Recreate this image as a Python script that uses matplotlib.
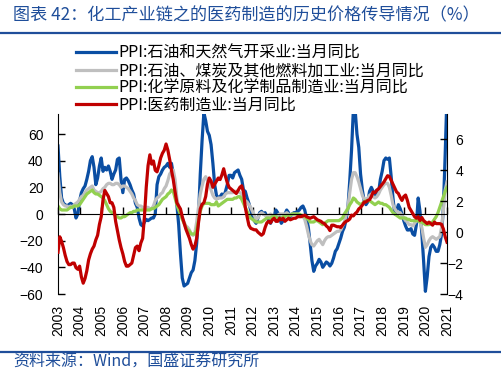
import numpy as np
import matplotlib
matplotlib.use("Agg")
import matplotlib.pyplot as plt
from matplotlib.lines import Line2D

plt.rcParams["font.family"] = ["Liberation Sans", "Noto Sans CJK SC", "DejaVu Sans"]
cjk = ["Noto Sans CJK SC", "DejaVu Sans"]

# monthly, 2003-01 .. 2021-01 (%)
oil_gas = [51, 28, 12, 8, 7, 6, 7, 8, 7, 4, -3, 0,
           10, 16, 19, 21, 26, 32, 40, 43, 35, 22, 27, 36,
           42, 32, 35, 33, 36, 32, 26, 30, 33, 41, 42, 26,
           16, 26, 27, 25, 22, 18, 15, 8, 5, -3, -8, -9,
           -6, -4, -5, -4, -3, -3, 0, 22, 28, 30, 33, 35,
           36, 38, 35, 38, 30, 20, 7, -8, -30, -48, -54, -53,
           -52, -48, -44, -42, -35, -22, -2, 30, 55, 76, 70, 62,
           59, 52, 38, 22, 14, 12, 13, 15, 13, 17, 22, 29,
           29, 27, 31, 32, 33, 29, 26, 18, 17, 12, 8, 3,
           -2, -5, -7, -3, 1, 2, 0, 1, -2, -5, -7, -4,
           -2, 3, 1, -3, -7, -5, 0, 3, 1, -2, 0, 1,
           1, 2, 3, 5, 6, 3, -3, -10, -22, -35, -43, -39,
           -37, -34, -36, -40, -38, -36, -37, -39, -37, -33, -28, -26,
           -22, -18, -13, -10, -4, 5, 25, 48, 78, 78, 60, 50,
           30, 18, 10, 7, 9, 17, 20, 17, 13, 18, 16, 26,
           32, 40, 42, 41, 42, 28, 12, 0, 2, 7, 4, 0,
           -5, -9, -12, -12, -11, -15, -16, -8, 12, 2, -14, -35,
           -58, -47, -32, -25, -23, -25, -28, -28, -23, -15, 5, 45,
           90]

refining = [30, 16, 9, 7, 6, 6, 5, 6, 5, 7, 8, 9,
            11, 13, 14, 16, 18, 19, 20, 21, 18, 17, 16, 16,
            17, 19, 20, 22, 23, 23, 22, 22, 23, 23, 22, 20,
            21, 21, 20, 19, 17, 15, 12, 10, 7, 6, 6, 5,
            5, 5, 5, 4, 4, 6, 10, 12, 13, 15, 16, 19,
            21, 25, 30, 32, 33, 26, 12, 5, 0, -3, -6, -9,
            -10, -12, -15, -16, -14, -6, 5, 15, 21, 26, 28, 25,
            22, 18, 14, 12, 11, 12, 12, 12, 13, 15, 16, 16,
            16, 16, 17, 17, 17, 16, 15, 12, 10, 9, 7, 5,
            2, -1, -4, -3, 0, 1, 0, -1, -2, -1, 0, -1,
            -1, -2, -1, 0, 0, 0, 0, 1, 0, -1, 0, 0,
            0, 0, -1, -1, -2, -4, -9, -15, -20, -23, -24, -22,
            -20, -19, -21, -23, -20, -18, -17, -17, -16, -15, -14, -13,
            -13, -12, -9, -6, -1, 6, 16, 26, 31, 31, 28, 24,
            19, 14, 11, 11, 12, 14, 15, 13, 12, 13, 15, 18,
            20, 22, 23, 23, 20, 14, 7, 4, 2, 1, 1, -1,
            -3, -5, -6, -8, -8, -9, -7, -5, -5, -6, -10, -18,
            -25, -23, -20, -18, -17, -18, -19, -18, -17, -10, 3, 18,
            24]

chemical = [6, 4, 3, 3, 3, 3, 4, 5, 5, 6, 6, 6,
            7, 9, 11, 13, 15, 16, 17, 18, 16, 15, 15, 14,
            13, 12, 10, 7, 4, 2, 1, 0, -1, -2, -3, -3,
            -2, -2, -1, 0, 1, 1, 2, 2, 3, 3, 3, 3,
            3, 3, 3, 3, 4, 4, 5, 6, 7, 9, 11, 12,
            13, 15, 16, 18, 17, 12, 7, 3, 0, -4, -7, -10,
            -12, -13, -15, -15, -15, -12, -5, 2, 6, 8, 8, 8,
            8, 7, 7, 7, 9, 6, 7, 8, 9, 10, 11, 11,
            11, 11, 12, 12, 13, 13, 11, 8, 5, 2, -1, -3,
            -4, -5, -6, -6, -6, -6, -5, -4, -3, -3, -3, -2,
            -2, -2, -3, -3, -3, -2, -2, -1, -1, -1, 0, 0,
            0, 0, 0, -1, -1, -2, -3, -4, -6, -6, -6, -5,
            -5, -6, -7, -8, -7, -6, -5, -5, -5, -5, -5, -5,
            -5, -4, -3, 0, 2, 4, 7, 9, 12, 11, 9, 8,
            7, 8, 9, 10, 10, 10, 9, 8, 7, 8, 9, 8,
            8, 7, 7, 6, 5, 3, 1, 0, -1, -2, -3, -3,
            -3, -3, -4, -4, -5, -5, -5, -5, -5, -6, -6, -7,
            -8, -8, -8, -7, -6, -4, -2, 1, 5, 9, 13, 17,
            20]

pharma = [-1.3, -0.3, -0.6, -1.0, -1.5, -1.9, -2.1, -2.1, -2.0, -2.0, -2.3, -2.4,
          -2.2, -2.9, -3.3, -3.0, -2.5, -1.8, -1.4, -1.1, -0.9, -0.5, -0.2, 0.5,
          1.0, 2.1, 2.7, 2.5, 2.3, 1.9, 1.9, 1.6, 0.7, 0.1, -0.5, -1.0,
          -1.4, -1.9, -2.2, -2.2, -2.1, -2.0, -1.5, -1.0, -0.9, -1.2, -0.7, -0.4,
          1.0, 2.9, 4.3, 5.0, 4.4, 4.6, 4.0, 3.9, 4.3, 4.8, 5.1, 5.3,
          5.7, 5.3, 4.7, 4.0, 3.4, 2.6, 1.9, 1.7, 1.5, 1.0, 0.6, 0.2,
          -0.1, -0.4, -0.8, -1.1, -0.9, -0.4, 0.6, 1.5, 1.8, 1.9, 2.3, 3.1,
          3.5, 3.3, 2.9, 3.1, 3.3, 3.5, 3.4, 3.7, 4.1, 3.6, 3.2, 2.9,
          2.8, 2.7, 2.6, 2.5, 2.7, 2.9, 3.0, 2.6, 1.6, 1.0, 0.45, 0.25,
          0.2, 0.15, 0.15, 0.0, -0.1, -0.2, -0.1, 0.3, 0.6, 0.7, 0.6, 0.8,
          0.9, 0.7, 0.7, 0.9, 0.8, 0.9, 0.7, 0.8, 0.9, 0.8, 0.85, 0.9,
          0.9, 1.0, 1.0, 1.0, 1.05, 1.1, 1.0, 0.95, 0.9, 0.95, 1.0, 0.9,
          0.8, 0.75, 0.7, 0.6, 0.55, 0.4, 0.3, 0.1, 0.45, 0.45, 0.4, 0.35,
          0.35, 0.3, 0.45, 0.6, 0.7, 0.75, 0.85, 1.1, 1.05, 1.2, 1.3, 1.5,
          1.6, 1.75, 1.95, 1.95, 2.05, 2.1, 2.3, 2.6, 2.55, 2.7, 2.8, 2.95,
          3.1, 3.25, 3.45, 3.65, 3.6, 3.35, 3.1, 2.85, 2.6, 2.5, 2.25, 2.05,
          2.3, 2.4, 2.05, 1.6, 1.4, 1.2, 1.0, 0.9, 1.0, 0.75, 0.95, 0.75,
          0.65, 0.55, 0.65, 0.55, 0.45, 0.65, 0.55, 0.55, 0.55, 0.5, 0.2, -0.3,
          -0.65]

labels = ["PPI:石油和天然气开采业:当月同比",
          "PPI:石油、煤炭及其他燃料加工业:当月同比",
          "PPI:化学原料及化学制品制造业:当月同比",
          "PPI:医药制造业:当月同比"]
years = list(range(2003, 2022))
left_ticks = [-60, -40, -20, 0, 20, 40, 60]
right_ticks = [-4, -2, 0, 2, 4, 6]

x = 2003 + np.arange(len(oil_gas)) / 12.0

navy = "#1f4e9a"
W, H = 502, 379
fig = plt.figure(figsize=(W / 100, H / 100), dpi=100)
ax = fig.add_axes([58 / W, 1 - 294 / H, (447 - 58) / W, (294 - 114) / H])
ax2 = ax.twinx()

lw = 2.3
l1, = ax.plot(x, oil_gas, color="#0a4ea3", lw=lw)
l2, = ax.plot(x, refining, color="#bfbfbf", lw=lw)
l3, = ax.plot(x, chemical, color="#92d050", lw=lw)
l4, = ax2.plot(x, pharma, color="#c00000", lw=lw)

ax.set_xlim(x[0], x[-1])
ax.set_ylim(-60, 75)
ax2.set_ylim(-4, 7.64)

for s in ["top", "right"]:
    ax.spines[s].set_visible(False)
for s in ["top", "left", "bottom"]:
    ax2.spines[s].set_visible(False)
ax.spines["bottom"].set_position(("data", 0))

ax.set_xticks(years)
ax.tick_params(axis="x", direction="in", length=5, width=1, labelbottom=False)
ax.set_yticks(left_ticks)
ax.tick_params(axis="y", direction="in", length=5, width=1, pad=10.5, labelsize=10)
ax2.set_yticks(right_ticks)
ax2.tick_params(axis="y", direction="in", length=5, width=1, pad=11.5, labelsize=10)
for t in ax2.get_yticklabels():
    t.set_horizontalalignment("right")

sec = ax.secondary_xaxis("bottom")
sec.spines["bottom"].set_visible(False)
sec.set_xticks(years)
sec.set_xticklabels([str(y) for y in years], rotation=90)
sec.tick_params(length=0, pad=8, labelsize=10)

fig.legend([l1, l2, l3, l4], labels, loc="upper left",
           bbox_to_anchor=(76 / W, 1 - 45 / H), bbox_transform=fig.transFigure,
           frameon=False, prop={"family": cjk, "size": 11.5},
           handlelength=2.5, handletextpad=0.15, labelspacing=0.02,
           borderpad=0, borderaxespad=0)

fig.text(13 / W, 1 - 15.5 / H, "图表 42：化工产业链之的医药制造的历史价格传导情况（%）",
         family=cjk, fontsize=12.3, color=navy, va="center", ha="left")
fig.add_artist(Line2D([0, 1], [1 - 33 / H] * 2, transform=fig.transFigure, color=navy, lw=1.6))
fig.add_artist(Line2D([0, 1], [1 - 352 / H] * 2, transform=fig.transFigure, color=navy, lw=1.6))
fig.text(13 / W, 1 - 362 / H, "资料来源：Wind，国盛证券研究所",
         family=cjk, fontsize=11.5, color=navy, va="center", ha="left")

fig.savefig("out.png", dpi=100)
